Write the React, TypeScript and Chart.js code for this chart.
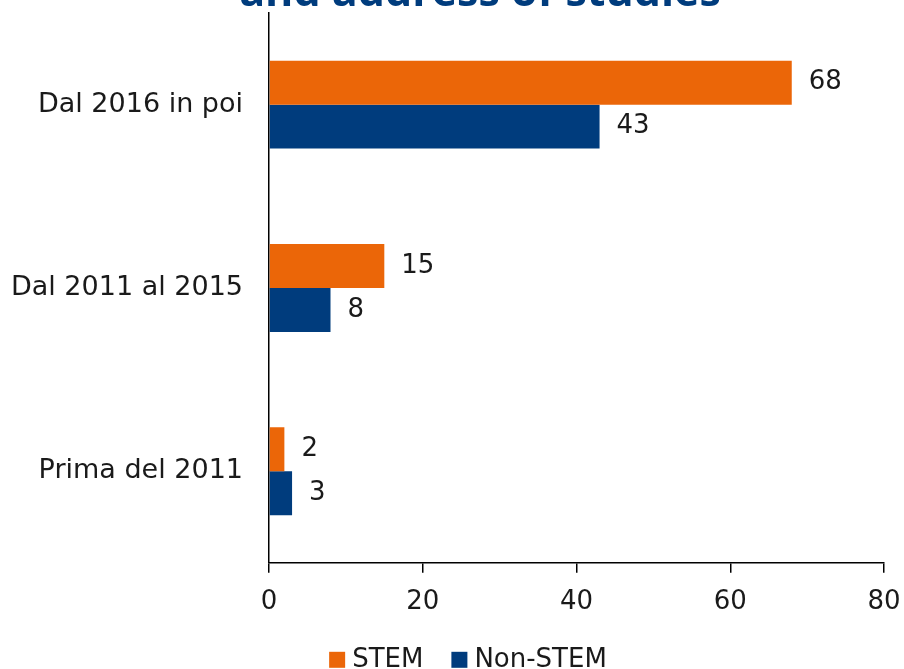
import React, { useEffect, useRef } from 'react';
import { Chart, registerables } from 'chart.js';

Chart.register(...registerables);

const categories = ['Dal 2016 in poi', 'Dal 2011 al 2015', 'Prima del 2011'];
const seriesNames = ['STEM', 'Non-STEM'];
const stemValues = [68, 15, 2];
const nonStemValues = [43, 8, 3];
const xMin = 0;
const xMax = 80;
const xStep = 20;
const titleText = 'and address of studies';

const FONT = '"DejaVu Sans", sans-serif';
const FSIZE = 27;
const ORANGE = '#EB6608';
const BLUE = '#003C7D';
const TEXT = '#1a1a1a';

const valueLabels = {
  id: 'valueLabels',
  afterDatasetsDraw(chart: any) {
    const ctx = chart.ctx;
    ctx.save();
    ctx.font = `${FSIZE - 1}px ${FONT}`;
    ctx.fillStyle = TEXT;
    ctx.textAlign = 'left';
    ctx.textBaseline = 'middle';
    chart.data.datasets.forEach((ds: any, i: number) => {
      const meta = chart.getDatasetMeta(i);
      meta.data.forEach((el: any, j: number) => {
        ctx.fillText(String(ds.data[j]), el.x + 17, el.y);
      });
    });
    ctx.restore();
  },
};

const topTitle = {
  id: 'topTitle',
  afterDraw(chart: any) {
    const ctx = chart.ctx;
    ctx.save();
    ctx.font = `bold 43px "Open Sans", sans-serif`;
    ctx.fillStyle = BLUE;
    ctx.textAlign = 'center';
    ctx.textBaseline = 'alphabetic';
    ctx.fillText(titleText, 480, 46);
    ctx.restore();
  },
};

// legend drawn below the axis, centred on the page
const bottomLegend = {
  id: 'bottomLegend',
  afterDraw(chart: any) {
    const ctx = chart.ctx;
    ctx.save();
    ctx.font = `26px ${FONT}`;
    ctx.textBaseline = 'middle';
    ctx.textAlign = 'left';
    const box = 16;
    const gapText = 7;
    const gapItem = 28;
    const items = chart.data.datasets.map((ds: any) => ({
      label: ds.label,
      color: ds.backgroundColor,
      w: ctx.measureText(ds.label).width,
    }));
    const total = items.reduce((s: number, it: any) => s + box + gapText + it.w, 0) + gapItem * (items.length - 1);
    let x = 468 - total / 2;
    const cy = chart.chartArea.bottom + 97;
    items.forEach((it: any) => {
      ctx.fillStyle = it.color;
      ctx.fillRect(x, cy - box / 2, box, box);
      x += box + gapText;
      ctx.fillStyle = TEXT;
      ctx.fillText(it.label, x, cy);
      x += it.w + gapItem;
    });
    ctx.restore();
  },
};

export default function App() {
  const canvasRef = useRef<HTMLCanvasElement | null>(null);

  useEffect(() => {
    if (!canvasRef.current) return;
    const chart = new Chart(canvasRef.current, {
      type: 'bar',
      data: {
        labels: categories,
        datasets: [
          {
            label: seriesNames[0],
            data: stemValues,
            backgroundColor: ORANGE,
            borderWidth: 0,
            categoryPercentage: 0.48,
            barPercentage: 1,
          },
          {
            label: seriesNames[1],
            data: nonStemValues,
            backgroundColor: BLUE,
            borderWidth: 0,
            categoryPercentage: 0.48,
            barPercentage: 1,
          },
        ],
      },
      options: {
        indexAxis: 'y',
        animation: false,
        responsive: true,
        maintainAspectRatio: false,
        layout: { padding: { top: 53, right: 52, bottom: 68, left: 0 } },
        scales: {
          x: {
            min: xMin,
            max: xMax,
            ticks: {
              stepSize: xStep,
              color: TEXT,
              font: { family: FONT, size: FSIZE - 1 },
              padding: 14,
            },
            grid: { drawOnChartArea: false, drawTicks: true, tickLength: 10, color: '#000', lineWidth: 1.5 },
            border: { display: true, color: '#000', width: 1.5 },
          },
          y: {
            ticks: {
              color: TEXT,
              font: { family: FONT, size: FSIZE },
              padding: 18,
            },
            grid: { display: false },
            border: { display: true, color: '#000', width: 1.5 },
            afterFit: (s: any) => {
              s.width = 269;
            },
          },
        },
        plugins: {
          legend: { display: false },
          title: { display: false },
          tooltip: { enabled: false },
        },
      },
      plugins: [valueLabels, topTitle, bottomLegend],
    });
    return () => chart.destroy();
  }, []);

  return (
    <div style={{ position: 'fixed', left: 0, top: 0, width: 904, height: 669, overflow: 'hidden', background: '#fff' }}>
      <div style={{ position: 'absolute', left: 0, top: -40, width: 936, height: 740 }}>
        <canvas ref={canvasRef} />
      </div>
    </div>
  );
}
